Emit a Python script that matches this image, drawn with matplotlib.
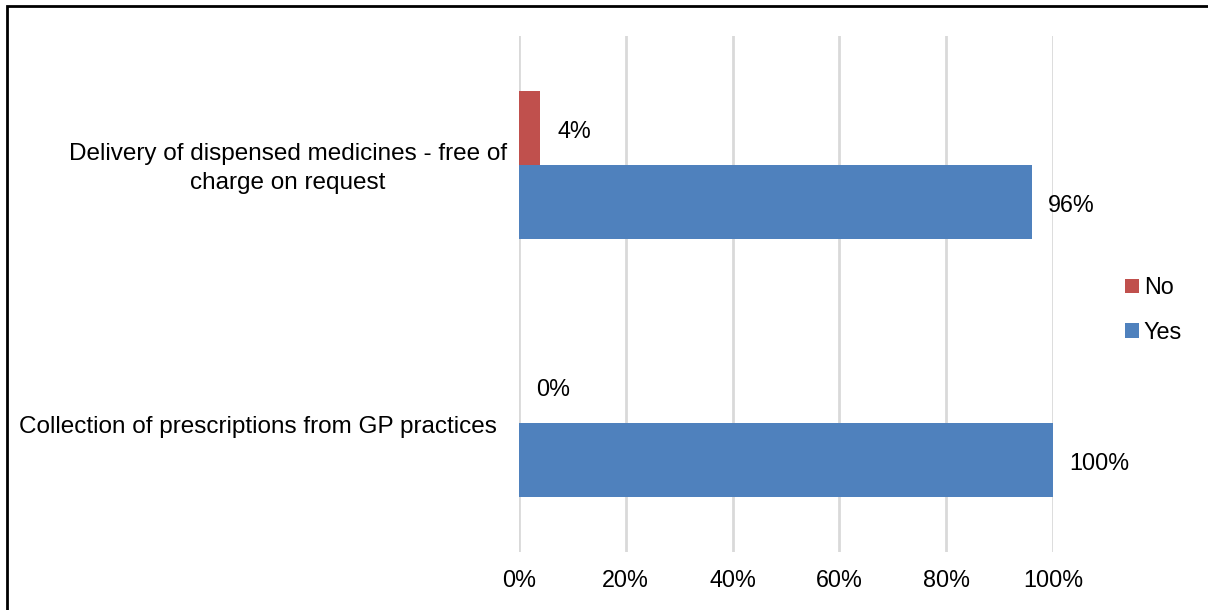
import matplotlib.pyplot as plt
from matplotlib.patches import Rectangle
from matplotlib.transforms import blended_transform_factory, ScaledTranslation

plt.rcParams['font.family'] = ['Liberation Sans', 'DejaVu Sans']

categories = ['Collection of prescriptions from GP practices',
              'Delivery of dispensed medicines - free of\ncharge on request']
yes_vals = [100, 96]
no_vals = [0, 4]
ticks = [0, 20, 40, 60, 80, 100]

FS = 16.8

fig = plt.figure(figsize=(12.08, 6.10), dpi=100)
ax = fig.add_axes([519/1208, 1 - 552/610, (1053 - 519)/1208, (552 - 36)/610])

h = 74/258
pos = list(range(len(categories)))
yb = ax.barh([p - h/2 for p in pos], yes_vals, height=h, color='#4F81BD', label='Yes', zorder=3)
nb = ax.barh([p + h/2 for p in pos], no_vals, height=h, color='#C0504D', label='No', zorder=3)

for bars, vals in ((yb, yes_vals), (nb, no_vals)):
    for b, v in zip(bars, vals):
        ax.annotate(f'{v}%', (b.get_width(), b.get_y() + b.get_height()/2),
                    xytext=(12, -2.5), textcoords='offset points', va='center', ha='left',
                    fontsize=FS)

ax.set_xlim(0, 100)
ax.set_ylim(-0.5, 1.5)
ax.set_xticks(ticks)
ax.set_xticklabels([f'{t}%' for t in ticks], fontsize=FS)
ax.set_yticks(pos)
ax.set_yticklabels([])
ax.tick_params(length=0)
ax.tick_params(axis='x', pad=12.5)
for s in ax.spines.values():
    s.set_visible(False)
ax.grid(axis='x', color='#D9D9D9', linewidth=2, zorder=0)

# category labels (Excel places them a little differently per label)
offsets = [-22, -12]
base = blended_transform_factory(ax.transAxes, ax.transData)
for p, cat, off in zip(pos, categories, offsets):
    ax.text(0, p, cat, transform=base + ScaledTranslation(off/100, -3.5/100, fig.dpi_scale_trans),
            ha='right', va='center', multialignment='center', fontsize=17.5, linespacing=1.38)

handles, labels = ax.get_legend_handles_labels()
fig.legend(handles[::-1], labels[::-1], loc='center left', bbox_to_anchor=(1104/1208, 1 - 310/610),
           frameon=False, fontsize=FS, handlelength=0.58, handleheight=0.58,
           handletextpad=0.22, labelspacing=0.92)

fig.patches.append(Rectangle((7/1208, -0.1), 1.2, 1 - 6/610 + 0.1, transform=fig.transFigure,
                             fill=False, edgecolor='black', linewidth=2))

fig.savefig('out.png', dpi=100)
